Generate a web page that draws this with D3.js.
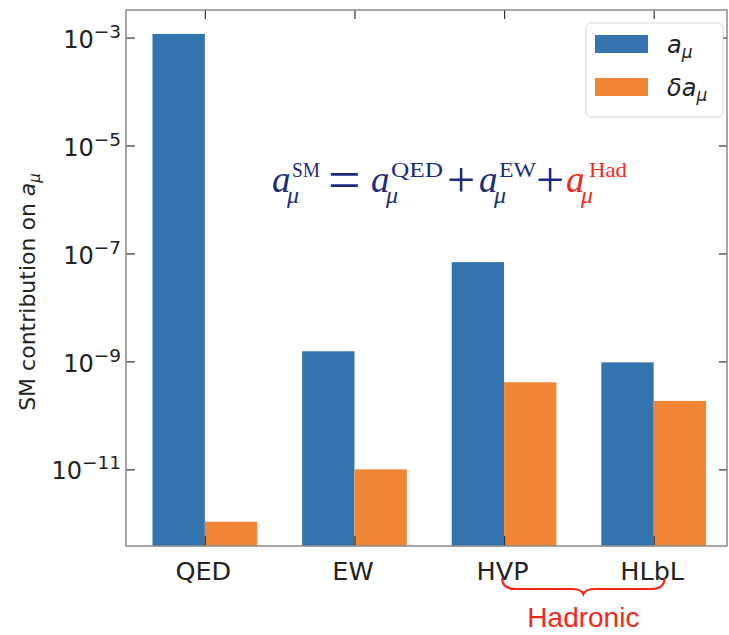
<!DOCTYPE html>
<html>
<head>
<meta charset="utf-8">
<script src="https://cdn.jsdelivr.net/npm/d3@7/dist/d3.min.js"></script>
<style>
  html, body { margin: 0; padding: 0; background: #fff; }
  svg { display: block; }
</style>
</head>
<body>
<svg id="chart" width="729" height="635"></svg>
<script>
// ---- data ----
const categories = ["QED", "EW", "HVP", "HLbL"];
const amu = [1.1658e-3, 1.54e-9, 6.9e-8, 9.6e-10];        // a_mu
const damu = [1.07e-12, 1.0e-11, 4.1e-10, 1.85e-10];      // delta a_mu
const yTickExponents = [-3, -5, -7, -9, -11];
const seriesNames = ["a", "δa"];

(function() {
// ---- layout ----
const mLeft = 126, mRight = 727, mTop = 10, mBottom = 546;
const blue = "#3474ae", orange = "#ef8535";
const frameColor = "#8a8a8a";

const svg = d3.select("#chart");

const x = d3.scaleLinear().domain([-0.527, 3.49]).range([mLeft, mRight]);
const y = d3.scaleLog().domain([Math.pow(10, -12.42), Math.pow(10, -2.49)]).range([mBottom, mTop]);
const barW = 0.35;
const yTicks = yTickExponents.map(e => Math.pow(10, e));

// bars
const g = svg.append("g");
const series = [amu, damu];
const colors = [blue, orange];
series.forEach((vals, si) => {
  g.selectAll(".bar" + si).data(vals).enter().append("rect")
    .attr("x", (d, i) => x(i + (si === 0 ? -barW : 0)))
    .attr("width", x(barW) - x(0))
    .attr("y", d => y(d))
    .attr("height", d => mBottom - y(d))
    .attr("fill", colors[si]);
});

// axes
const font = "DejaVu Sans, sans-serif";
function styleAxis(sel) {
  sel.select(".domain").remove();
  sel.selectAll(".tick line").attr("stroke", "#333").attr("stroke-width", 1.2);
}

const yAxis = d3.axisLeft(y).tickValues(yTicks).tickSizeInner(-9).tickSizeOuter(0).tickPadding(5).tickFormat("");
const gy = svg.append("g").attr("transform", `translate(${mLeft},0)`).call(yAxis);
styleAxis(gy);
gy.selectAll(".tick text").each(function(d) {
  const t = d3.select(this);
  t.attr("font-family", font).attr("font-size", 24).attr("fill", "#222").attr("text-anchor", "end").attr("dy", "0.4em");
  t.append("tspan").text("10");
  t.append("tspan").attr("dy", "-10").attr("font-size", 18.5).text("−" + (-Math.round(Math.log10(d))));
});

const yAxisR = d3.axisRight(y).tickValues(yTicks).tickSizeInner(-8).tickSizeOuter(0).tickFormat("");
const gyr = svg.append("g").attr("transform", `translate(${mRight},0)`).call(yAxisR);
styleAxis(gyr);

const xAxis = d3.axisBottom(x).tickValues(d3.range(categories.length)).tickSizeInner(-10).tickSizeOuter(0)
  .tickFormat(i => categories[i]);
const gx = svg.append("g").attr("transform", `translate(0,${mBottom})`).call(xAxis);
styleAxis(gx);
gx.selectAll(".tick text").attr("font-family", font).attr("font-size", 25.5).attr("fill", "#222")
  .attr("y", 34).attr("dy", "0").attr("dx", -2);

const xAxisT = d3.axisTop(x).tickValues(d3.range(categories.length)).tickSizeInner(-9).tickSizeOuter(0).tickFormat("");
const gxt = svg.append("g").attr("transform", `translate(0,${mTop})`).call(xAxisT);
styleAxis(gxt);

// frame
svg.append("rect").attr("x", mLeft).attr("y", mTop).attr("width", mRight - mLeft).attr("height", mBottom - mTop)
  .attr("fill", "none").attr("stroke", frameColor).attr("stroke-width", 1.5);

// y label
const yl = svg.append("text")
  .attr("transform", `translate(35,292) rotate(-90)`)
  .attr("text-anchor", "middle").attr("font-family", font).attr("font-size", 22).attr("fill", "#222");
yl.append("tspan").text("SM contribution on ");
yl.append("tspan").attr("font-style", "italic").text("a");
yl.append("tspan").attr("font-style", "italic").attr("font-size", 15).attr("dy", "0.3em").text("μ");

// legend
const lg = svg.append("g");
lg.append("rect").attr("x", 586).attr("y", 23).attr("width", 137).attr("height", 94).attr("rx", 5)
  .attr("fill", "#fff").attr("stroke", "#d6d6d6").attr("stroke-width", 1);
seriesNames.forEach((nm, i) => {
  const yy = 35 + i * 43;
  lg.append("rect").attr("x", 595).attr("y", yy).attr("width", 53).attr("height", 18).attr("fill", colors[i]);
  const t = lg.append("text").attr("x", 667).attr("y", yy + 18).attr("font-family", font)
    .attr("font-style", "italic").attr("font-size", 24).attr("fill", "#222");
  t.append("tspan").text(nm);
  t.append("tspan").attr("font-size", 17).attr("dy", "0.3em").text("μ");
});

// formula (one text element, pieces as positioned tspans)
const navy = "#1b2d7c", red = "#f4281a";
const serif = "Liberation Serif, Times New Roman, serif";
const formula = svg.append("text").attr("font-family", serif);
const pieces = [
  {t: "a", x: 272, y: 192, s: 37, it: true, c: navy},
  {t: "μ", x: 287, y: 203, s: 24, it: true, c: navy},
  {t: "SM", x: 292, y: 177, s: 22, w: 28, c: navy},
  {t: "=", x: 328, y: 199, s: 58, c: navy},
  {t: "a", x: 371, y: 192, s: 37, it: true, c: navy},
  {t: "μ", x: 386, y: 203, s: 24, it: true, c: navy},
  {t: "QED", x: 391, y: 177, s: 22, w: 52, c: navy},
  {t: "+", x: 447, y: 197, s: 50, c: navy},
  {t: "a", x: 479, y: 192, s: 37, it: true, c: navy},
  {t: "μ", x: 494, y: 203, s: 24, it: true, c: navy},
  {t: "EW", x: 499, y: 177, s: 22, w: 37, c: navy},
  {t: "+", x: 536, y: 197, s: 50, c: navy},
  {t: "a", x: 566, y: 192, s: 37, it: true, c: red},
  {t: "μ", x: 581, y: 203, s: 24, it: true, c: red},
  {t: "Had", x: 589, y: 177, s: 22, w: 38, c: red}
];
pieces.forEach(p => {
  const t = formula.append("tspan").attr("x", p.x).attr("y", p.y).attr("font-size", p.s)
    .attr("font-style", p.it ? "italic" : "normal").attr("fill", p.c).text(p.t);
  if (p.w) t.attr("textLength", p.w).attr("lengthAdjust", "spacingAndGlyphs");
});

// Hadronic brace
const bx0 = x(2) - 2, bx1 = x(3) + 11, bm = (bx0 + bx1) / 2, by = 578;
const brace = `M${bx0},${by} Q${bx0},${by + 11} ${bx0 + 14},${by + 11} L${bm - 12},${by + 11} Q${bm - 2},${by + 11} ${bm},${by + 16}
  Q${bm + 2},${by + 11} ${bm + 12},${by + 11} L${bx1 - 14},${by + 11} Q${bx1},${by + 11} ${bx1},${by}`;
svg.append("path").attr("d", brace).attr("fill", "none").attr("stroke", red).attr("stroke-width", 2.2);
svg.append("text").attr("x", bm).attr("y", 627).attr("text-anchor", "middle")
  .attr("font-family", "Liberation Sans, Arial, sans-serif").attr("font-size", 28).attr("fill", red).text("Hadronic");
})();
</script>
</body>
</html>
